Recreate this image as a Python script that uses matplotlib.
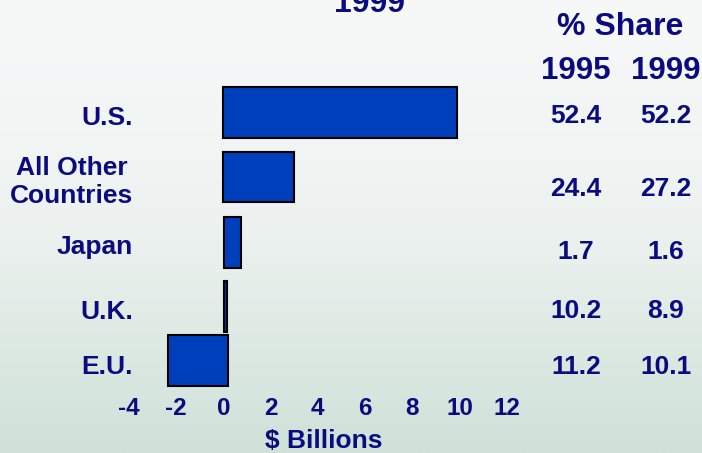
import numpy as np
import matplotlib
matplotlib.use("Agg")
import matplotlib.pyplot as plt
from matplotlib.colors import LinearSegmentedColormap

plt.rcParams['font.family'] = ['Liberation Sans', 'DejaVu Sans']
plt.rcParams['font.weight'] = 'bold'

# ---- data ----
title = "1999"
countries = ["U.S.", "All Other\nCountries", "Japan", "U.K.", "E.U."]
bar_start = [0.0, 0.0, 0.03, 0.02, 0.21]
bar_end = [9.9, 3.0, 0.74, 0.16, -2.36]
share_1995 = ["52.4", "24.4", "1.7", "10.2", "11.2"]
share_1999 = ["52.2", "27.2", "1.6", "8.9", "10.1"]
xticks = [-4, -2, 0, 2, 4, 6, 8, 10, 12]
xlabel = "$ Billions"

# ---- layout (pixels on a 702x453 canvas) ----
W, H = 702, 453
NAVY = "#0B0B80"
BAR = "#003FBC"
row_y = [0, 1, 2.01, 3.01, 3.84]        # row positions in axis units
label_y_px = [118, 182, 247, 312, 367]
value_y_px = [116, 189, 252, 311.5, 367]

fig = plt.figure(figsize=(W / 100, H / 100), dpi=100)

# background gradient
bg = fig.add_axes([0, 0, 1, 1], zorder=-10)
cmap = LinearSegmentedColormap.from_list("bg", ["#F7F9F9", "#EDF2F0", "#CFE1D8"])
grad = np.linspace(0, 1, 256).reshape(-1, 1)
bg.imshow(grad, aspect="auto", cmap=cmap, extent=[0, 1, 0, 1], origin="upper")
bg.set_axis_off()

# bar axes: x from -4 to 12 mapped to px 128.8..506.7
ax_left, ax_right = 128.8, 506.7
ax_top, ax_bot = 80, 390
ax = fig.add_axes([ax_left / W, 1 - ax_bot / H, (ax_right - ax_left) / W, (ax_bot - ax_top) / H])
ax.patch.set_alpha(0)
ax.set_xlim(-4, 12)
unit = 64.5
ax.set_ylim(0 + (ax_bot - 112.5) / unit, 0 - (112.5 - ax_top) / unit)

widths = [e - s for s, e in zip(bar_start, bar_end)]
ax.barh(row_y, widths, left=bar_start, height=0.79, color=BAR,
        edgecolor="black", linewidth=1.5)

ax.set_xticks(xticks)
ax.set_xticklabels([str(t) for t in xticks], fontsize=17.5, fontweight="bold", color=NAVY)
ax.tick_params(axis="x", length=0, pad=5)
ax.set_yticks([])
for sp in ax.spines.values():
    sp.set_visible(False)


def px(x, y):
    return x / W, 1 - y / H


# country labels
for name, yy in zip(countries, label_y_px):
    fig.text(*px(133, yy), name, ha="right", va="center", multialignment="center",
             fontsize=19, fontweight="bold", color=NAVY, linespacing=1.2)

# share table
fig.text(*px(620, 27), "% Share", ha="center", va="center", fontsize=23,
         fontweight="bold", color=NAVY)
fig.text(*px(576, 71), "1995", ha="center", va="center", fontsize=22.5,
         fontweight="bold", color=NAVY)
fig.text(*px(665.5, 71), "1999", ha="center", va="center", fontsize=22.5,
         fontweight="bold", color=NAVY)
for a, b, yy in zip(share_1995, share_1999, value_y_px):
    fig.text(*px(576, yy), a, ha="center", va="center", fontsize=19,
             fontweight="bold", color=NAVY)
    fig.text(*px(666, yy), b, ha="center", va="center", fontsize=19,
             fontweight="bold", color=NAVY)

# title (runs off the top edge of the canvas)
fig.text(*px(369.5, 12), title, ha="center", va="baseline", fontsize=23,
         fontweight="bold", color=NAVY)

# axis label
fig.text(*px(324, 441), xlabel, ha="center", va="center", fontsize=19,
         fontweight="bold", color=NAVY)

fig.savefig("out.png", dpi=100)
